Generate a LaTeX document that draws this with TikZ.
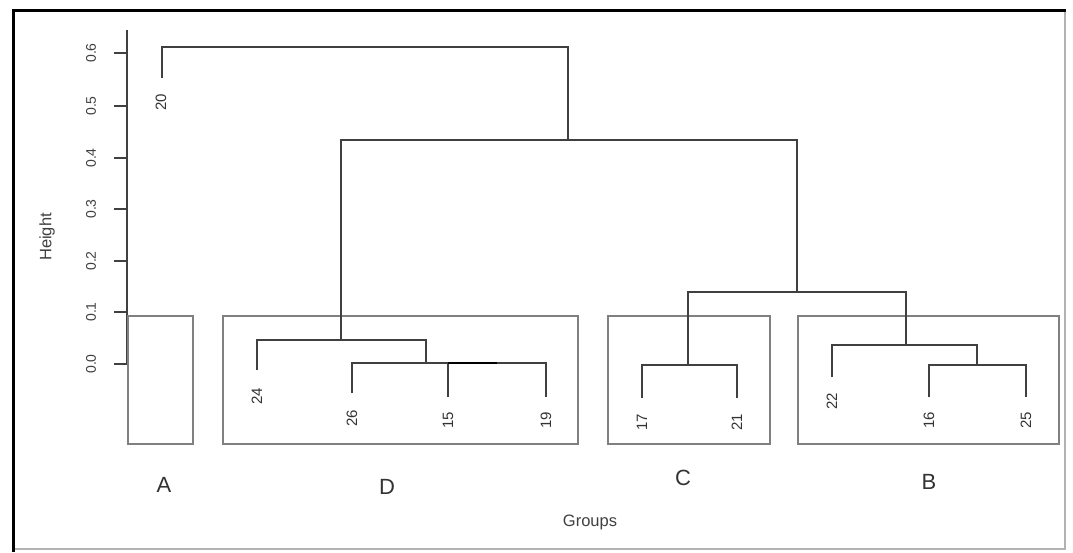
\documentclass[tikz,border=0pt]{standalone}
\usepackage{fontspec}
\setmainfont{Liberation Sans}
\begin{document}
\begin{tikzpicture}[x=1pt,y=-1pt,
  dend/.style={draw=black!75,line width=1.2pt},
  grpbox/.style={draw=black!50,line width=1.8pt},
  leaflab/.style={rotate=90,font=\fontsize{15}{15}\selectfont,text=black!80,inner sep=0pt},
  ticklab/.style={rotate=90,font=\fontsize{14}{14}\selectfont,text=black!75,inner sep=0pt},
  grplab/.style={font=\fontsize{22}{22}\selectfont,text=black!80,inner sep=0pt},
  axlab/.style={font=\fontsize{16.5}{16.5}\selectfont,text=black!75,inner sep=0pt}]
\fill[white] (0,0) rectangle (1073,552);
\useasboundingbox (0,0) rectangle (1073,552);
% frame
\draw[black!30,line width=1.2pt] (1065,10) -- (1065,549) -- (13,549);
\draw[black,line width=3pt] (13,552) -- (13,10) -- (1066,10);
% axis
\coordinate (axtop) at (127,30);
\coordinate (axbot) at (127,364);
\draw[black!75,line width=1.2pt] (axtop) -- (axbot);
\foreach \v/\y in {0.0/364,0.1/312,0.2/261,0.3/209,0.4/158,0.5/106,0.6/53}{
  \draw[black!75,line width=1.2pt] (114,\y) -- (127,\y);
  \node[ticklab] (t\v) at (91,\y) {\v};
}
\node[axlab,rotate=90] (ylab) at (47,237) {Height};
\node[axlab] (xlab) at (590,522) {Groups};
% group boxes
\draw[grpbox] (128,316) rectangle (193,444);
\draw[grpbox] (223,316) rectangle (578,444);
\draw[grpbox] (608,316) rectangle (770,444);
\draw[grpbox] (798,316) rectangle (1059,444);
\node[grplab] (gA) at (164,485) {A};
\node[grplab] (gD) at (387,487) {D};
\node[grplab] (gC) at (683,478) {C};
\node[grplab] (gB) at (929,482) {B};
% leaves
\coordinate (l20) at (162,78);
\coordinate (l24) at (257,370);
\coordinate (l26) at (352,393);
\coordinate (l15) at (448,397);
\coordinate (l19) at (546,397);
\coordinate (l17) at (642,398);
\coordinate (l21) at (737,398);
\coordinate (l22) at (832,377);
\coordinate (l16) at (929,397);
\coordinate (l25) at (1026,397);
% merges
\coordinate (R) at (365,47);
\coordinate (M2) at (568,140);
\coordinate (MD) at (341,340);
\coordinate (MD2) at (426,363);
\coordinate (M1519) at (497,363);
\coordinate (MR) at (797,292);
\coordinate (MC) at (688,365);
\coordinate (MB) at (906,345);
\coordinate (MB2) at (977,365);
\draw[dend] (l20) |- (R) -| (M2);
\draw[dend] (MD) |- (M2) -| (MR);
\draw[dend] (l24) |- (MD) -| (MD2);
\draw[dend] (l26) |- (MD2) -| (M1519);
\draw[dend] (l15) |- (M1519) -| (l19);
\draw[dend,draw=black,line width=1.8pt] (l15 |- M1519) -- (M1519);
\draw[dend] (MC) |- (MR) -| (MB);
\draw[dend] (l17) |- (MC) -| (l21);
\draw[dend] (l22) |- (MB) -| (MB2);
\draw[dend] (l16) |- (MB2) -| (l25);
% leaf labels
\node[leaflab] (n20) at (161,102) {20};
\node[leaflab] (n24) at (257,396) {24};
\node[leaflab] (n26) at (352,418) {26};
\node[leaflab] (n15) at (448,420) {15};
\node[leaflab] (n19) at (546,420) {19};
\node[leaflab] (n17) at (642,422) {17};
\node[leaflab] (n21) at (737,422) {21};
\node[leaflab] (n22) at (832,401) {22};
\node[leaflab] (n16) at (929,420) {16};
\node[leaflab] (n25) at (1026,420) {25};
\end{tikzpicture}
\end{document}
